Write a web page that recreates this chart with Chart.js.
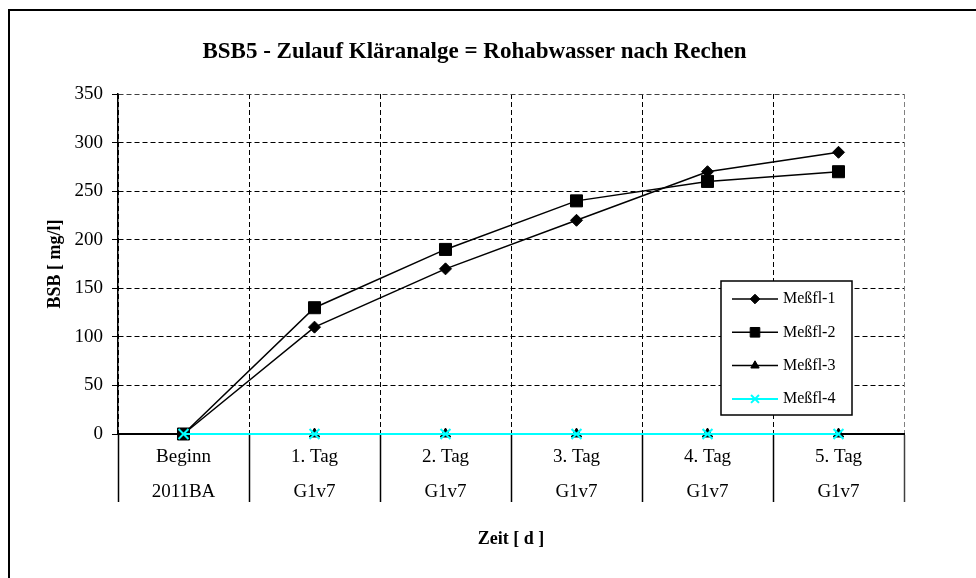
<!DOCTYPE html>
<html>
<head>
<meta charset="utf-8">
<script src="https://cdn.jsdelivr.net/npm/chart.js@4/dist/chart.umd.min.js"></script>
<style>
  html, body { margin: 0; padding: 0; background: #fff; }
  #rahmen { position: relative; width: 976px; height: 578px; overflow: hidden; }
  #kante { position: absolute; left: 8px; top: 9px; width: 1000px; height: 600px; border: 2px solid #000; }
  #grafik { position: absolute; left: 0; top: 0; }
</style>
</head>
<body>
<div id="rahmen">
  <div id="kante"></div>
  <canvas id="grafik" width="976" height="578"></canvas>
</div>
<script>
// ======== Daten ========
const tage = ['Beginn', '1. Tag', '2. Tag', '3. Tag', '4. Tag', '5. Tag'];
const proben = ['2011BA', 'G1v7', 'G1v7', 'G1v7', 'G1v7', 'G1v7'];

const messfl1 = [0, 110, 170, 220, 270, 290];
const messfl2 = [0, 130, 190, 240, 260, 270];
const messfl3 = [0, 0, 0, 0, 0, 0];
const messfl4 = [0, 0, 0, 0, 0, 0];

const schrift = '"Liberation Serif", "Times New Roman", serif';

// zweizeilige Kategorien (Tag / Probe)
const labels = tage.map((t, i) => [t, proben[i]]);

// ======== Legende im Diagrammbereich ========
const legendePlugin = {
  id: 'legende',
  afterDraw(chart) {
    const { ctx, chartArea } = chart;
    const x0 = chartArea.right - 183;
    const y0 = chartArea.top + 187;
    const b = 131, h = 134;
    ctx.save();
    ctx.setLineDash([]);
    ctx.fillStyle = '#fff';
    ctx.fillRect(x0, y0, b, h);
    ctx.strokeStyle = '#000';
    ctx.lineWidth = 1.5;
    ctx.strokeRect(x0, y0, b, h);

    chart.data.datasets.forEach((ds, i) => {
      const y = y0 + 18 + i * 33.3;
      ctx.strokeStyle = ds.borderColor;
      ctx.lineWidth = ds.borderWidth;
      ctx.beginPath();
      ctx.moveTo(x0 + 11, y);
      ctx.lineTo(x0 + 57, y);
      ctx.stroke();

      ctx.fillStyle = ds.pointBackgroundColor;
      ctx.strokeStyle = ds.pointBorderColor;
      ctx.lineWidth = ds.pointBorderWidth;
      Chart.helpers.drawPoint(ctx, {
        pointStyle: ds.pointStyle,
        radius: ds.pointRadius * 0.8,
        borderWidth: ds.pointBorderWidth,
        rotation: 0,
      }, x0 + 34, y);

      ctx.fillStyle = '#000';
      ctx.font = '16px ' + schrift;
      ctx.textBaseline = 'middle';
      ctx.textAlign = 'left';
      ctx.fillText(ds.label, x0 + 62, y);
    });
    ctx.restore();
  },
};

// ======== Diagramm ========
const linie = (label, data, farbe, punkt, radius, breite, order) => ({
  label,
  data,
  borderColor: farbe,
  backgroundColor: farbe,
  borderWidth: breite,
  pointStyle: punkt,
  pointRadius: radius,
  pointBackgroundColor: farbe,
  pointBorderColor: farbe,
  pointBorderWidth: breite === 2 ? 2 : 1,
  tension: 0,
  clip: false,
  order,
});

new Chart(document.getElementById('grafik'), {
  type: 'line',
  data: {
    labels,
    datasets: [
      linie('Meßfl-1', messfl1, '#000', 'rectRot', 6, 1.5, 1),
      linie('Meßfl-2', messfl2, '#000', 'rect', 8.5, 1.5, 1),
      linie('Meßfl-3', messfl3, '#000', 'triangle', 6, 1.5, 1),
      linie('Meßfl-4', messfl4, '#00ffff', 'crossRot', 7, 2, 0),
    ],
  },
  options: {
    responsive: false,
    animation: false,
    layout: { padding: { left: 45, right: 72, top: 10, bottom: 20 } },
    plugins: {
      legend: { display: false },
      tooltip: { enabled: false },
      title: {
        display: true,
        text: 'BSB5 - Zulauf Kläranalge = Rohabwasser nach Rechen',
        color: '#000',
        font: { family: schrift, size: 23, weight: 'bold' },
        padding: { top: 28.2, bottom: 28.2 },
      },
    },
    scales: {
      x: {
        offset: true,
        grid: {
          offset: true,
          color: (c) => (c.type === 'tick' ? '#000' : '#808080'),
          lineWidth: 1,
          drawTicks: true,
          tickLength: 68,
          tickColor: (c) => (c.type === 'tick' ? '#000' : '#404040'),
          tickWidth: 1.5,
          tickBorderDash: [],
        },
        border: { display: true, color: '#000', width: 2, dash: [5, 3] },
        ticks: {
          color: '#000',
          padding: -62.5,
          maxRotation: 0,
          autoSkip: false,
          font: { family: schrift, size: 19, lineHeight: 1.842 },
        },
        title: {
          display: true,
          text: 'Zeit [ d ]',
          color: '#000',
          font: { family: schrift, size: 18, weight: 'bold' },
          padding: { top: 0, bottom: 8.2 },
        },
        afterFit: (s) => { s.height = 124; },
      },
      y: {
        min: 0,
        max: 350,
        grid: {
          color: (c) => (c.index === 7 ? '#404040' : '#000'),
          lineWidth: 1,
          tickLength: 6,
          tickColor: '#000',
          tickWidth: 1,
          tickBorderDash: [],
        },
        border: { display: true, color: '#000', width: 1.5, dash: [5, 3] },
        ticks: {
          stepSize: 50,
          color: '#000',
          padding: 9,
          font: { family: schrift, size: 19 },
        },
        title: {
          display: true,
          text: 'BSB [ mg/l]',
          color: '#000',
          font: { family: schrift, size: 18, weight: 'bold' },
          padding: { top: 0, bottom: 0 },
        },
        afterFit: (s) => { s.width = 73; },
      },
    },
  },
  plugins: [legendePlugin],
});
</script>
</body>
</html>
